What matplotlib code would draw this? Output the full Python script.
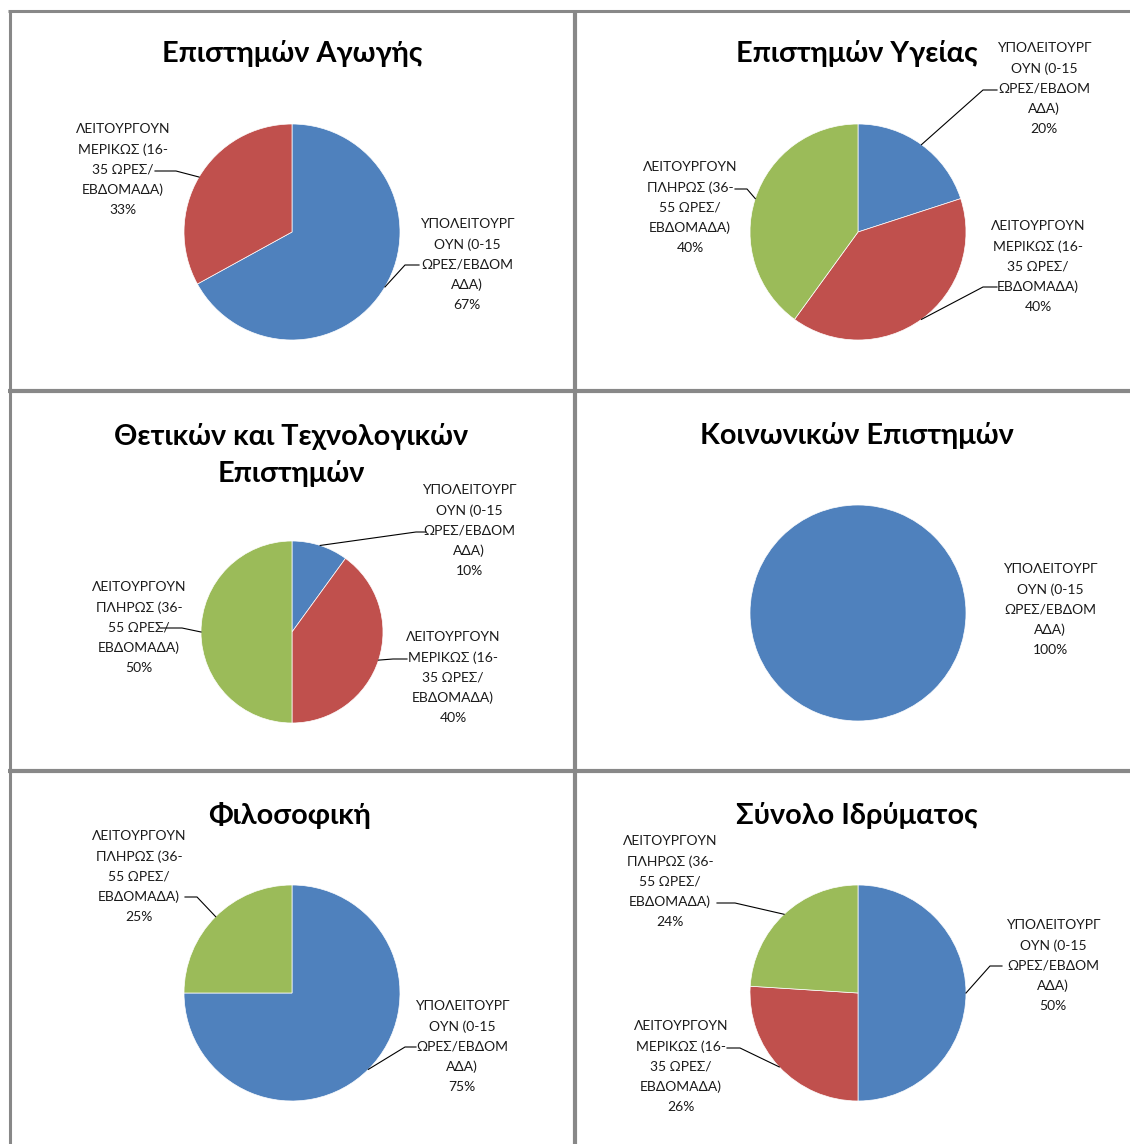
import numpy as np
import matplotlib
matplotlib.use("Agg")
import matplotlib.pyplot as plt

W, H = 1130, 1144

categories = ["ΥΠΟΛΕΙΤΟΥΡΓ\nΟΥΝ (0-15\nΩΡΕΣ/ΕΒΔΟΜ\nΑΔΑ)",
              "ΛΕΙΤΟΥΡΓΟΥΝ\nΜΕΡΙΚΩΣ (16-\n35 ΩΡΕΣ/\nΕΒΔΟΜΑΔΑ)",
              "ΛΕΙΤΟΥΡΓΟΥΝ\nΠΛΗΡΩΣ (36-\n55 ΩΡΕΣ/\nΕΒΔΟΜΑΔΑ)"]
colors = ["#4F81BD", "#C0504D", "#9BBB59"]

titles = ["Επιστημών Αγωγής", "Επιστημών Υγείας",
          "Θετικών και Τεχνολογικών\nΕπιστημών", "Κοινωνικών Επιστημών",
          "Φιλοσοφική", "Σύνολο Ιδρύματος"]

agogis = [67, 33, 0]
ygeias = [20, 40, 40]
thetikon = [10, 40, 50]
koinonikon = [100, 0, 0]
filosofiki = [75, 0, 25]
synolo = [50, 26, 24]
panel_values = [agogis, ygeias, thetikon, koinonikon, filosofiki, synolo]

# layout (pixel coords, y from top)
pie_geom = [(292, 232, 108), (858, 232, 108), (292, 632, 91),
            (858, 613, 108), (292, 993, 108), (858, 993, 108)]
# baseline of the last title line
title_pos = [(292, 62), (857, 62), (291, 482), (857, 444), (290, 824), (857, 824)]
# per panel, per category: (label center x, first line center y, leader elbow x, leader end x, leader y) or None
label_layout = [
    [(467, 226, 405, 419, 265), (123, 131, 176, 155, 171), None],
    [(1044, 50, 983, 997, 90), (1038, 228, 983, 997, 287), (690, 169, 747, 735, 189)],
    [(469, 492, 416, 426, 532), (453, 639, 393, 407, 659), (139, 589, 182, 160, 628)],
    [(1050, 571, None, None, None), None, None],
    [(462, 1008, 405, 416, 1047), None, (139, 838, 197, 185, 897)],
    [(1053, 927, 990, 1002, 966), (681, 1028, 740, 727, 1048), (670, 843, 735, 717, 903)],
]
LINE_STEP = 19.5

FONT = "Lato"
fig = plt.figure(figsize=(W / 100, H / 100), dpi=100)
ax = fig.add_axes([0, 0, 1, 1])

def Y(y):
    return H - y

for i, vals in enumerate(panel_values):
    cx, cy, r = pie_geom[i]
    idx = [k for k, v in enumerate(vals) if v > 0]
    wedges, _ = ax.pie([vals[k] for k in idx], colors=[colors[k] for k in idx],
                       startangle=90, counterclock=False,
                       center=(cx, Y(cy)), radius=r,
                       wedgeprops=dict(edgecolor="white", linewidth=0.5))
    for w, k in zip(wedges, idx):
        lay = label_layout[i][k]
        if lay is None:
            continue
        lx, ly0, ex, tx, hy = lay
        txt = categories[k] + "\n" + f"{vals[k]}%"
        nlines = txt.count("\n")
        ax.text(lx, Y(ly0 + nlines * LINE_STEP + 5), txt, ha="center", va="baseline",
                fontsize=10.0, family=FONT, color="#1a1a1a", linespacing=1.78)
        if ex is not None and len(idx) > 1:
            mid = np.deg2rad((w.theta1 + w.theta2) / 2)
            px, py = cx + r * np.cos(mid), Y(cy) + r * np.sin(mid)
            ax.plot([px, ex, tx], [py, Y(hy), Y(hy)], color="black", lw=0.8)
    tx_, ty_ = title_pos[i]
    ax.text(tx_, Y(ty_), titles[i], ha="center", va="baseline", fontsize=20.8,
            fontweight="bold", family=FONT, color="black", linespacing=1.45)

# panel borders
bc = "#888888"
ax.plot([8, W], [Y(11), Y(11)], color=bc, lw=2.2, solid_capstyle="butt")
ax.plot([9.5, 9.5], [Y(10), 0], color=bc, lw=2.2, solid_capstyle="butt")
ax.plot([575, 575], [Y(10), 0], color=bc, lw=3, solid_capstyle="butt")
for yy in (390.5, 770.5):
    ax.plot([8, W], [Y(yy), Y(yy)], color=bc, lw=3, solid_capstyle="butt")

ax.set_xlim(0, W)
ax.set_ylim(0, H)
ax.set_aspect("auto")
ax.axis("off")
fig.savefig("out.png", dpi=100, facecolor="white")
